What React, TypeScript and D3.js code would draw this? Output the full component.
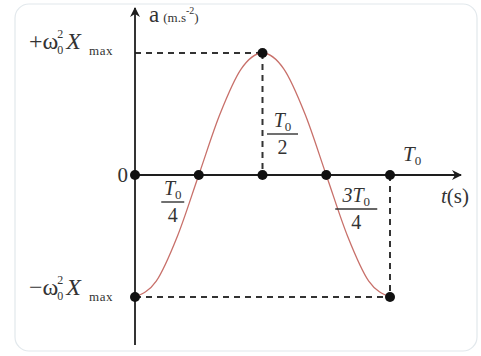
import React from 'react';
import * as d3 from 'd3';

// time in units of T0, acceleration in units of ω0²·Xmax
const times = [0, 1 / 12, 2 / 12, 3 / 12, 4 / 12, 5 / 12, 6 / 12, 7 / 12, 8 / 12, 9 / 12, 10 / 12, 11 / 12, 1];
const accel = [-1, -0.87, -0.5, 0, 0.5, 0.87, 1, 0.87, 0.5, 0, -0.5, -0.87, -1];
const axisMarks = [0, 0.25, 0.5, 0.75, 1];
const extremes = [
  { t: 0, a: -1 },
  { t: 0.5, a: 1 },
  { t: 1, a: -1 },
];

const W = 481;
const H = 356;
const serif = '"Liberation Serif", "DejaVu Serif", serif';
const ink = '#1e1e1e';

const App = () => {
  const x = d3.scaleLinear().domain([0, 1]).range([135, 390]);
  const y = d3.scaleLinear().domain([-1, 1]).range([297, 53]);
  const x0 = x(0);
  const y0 = y(0);

  const line = d3
    .line<number>()
    .x((_, i) => x(times[i]))
    .y((d) => y(d))
    .curve(d3.curveMonotoneX);

  const dash = { stroke: '#333', strokeWidth: 2, strokeDasharray: '6 5', fill: 'none' };

  const frac = (cx: number, top: number, num: React.ReactNode, den: string, w: number) => (
    <g fontFamily={serif} fill="#333" textAnchor="middle">
      <text x={cx} y={top} fontSize={20} fontStyle="italic">
        {num}
      </text>
      <line x1={cx - w / 2} x2={cx + w / 2} y1={top + 7} y2={top + 7} stroke="#333" strokeWidth={1.4} />
      <text x={cx} y={top + 27} fontSize={20}>
        {den}
      </text>
    </g>
  );

  const T0 = (
    <>
      T<tspan fontStyle="normal" fontSize={13} dy={4}>0</tspan>
    </>
  );

  const amp = (sign: string, yy: number) => (
    <text x={29} y={yy} fontSize={24}>
      {sign}ω
      <tspan fontSize={12} dy={-11} dx={-1}>2</tspan>
      <tspan fontSize={12} dy={16} dx={-6}>0</tspan>
      <tspan fontStyle="italic" dy={-5} dx={3}>X</tspan>
      <tspan fontSize={13} dy={6} dx={8} letterSpacing={0.5}>max</tspan>
    </text>
  );

  return (
    <svg width={W} height={H} style={{ position: 'absolute', left: 0, top: 0, background: '#fff' }}>
      <defs>
        <marker id="arr" viewBox="0 0 10 10" refX={9} refY={5} markerWidth={10} markerHeight={10} orient="auto" markerUnits="userSpaceOnUse">
          <path d="M0,0 L10,5 L0,10 L3,5 z" fill={ink} />
        </marker>
      </defs>

      <rect x={15} y={4} width={462} height={347} rx={14} fill="none" stroke="#e2e8ec" strokeWidth={1.2} />

      {/* guides */}
      <line x1={x0} x2={x(0.5)} y1={y(1)} y2={y(1)} {...dash} />
      <line x1={x(0.5)} x2={x(0.5)} y1={y(1)} y2={y0} {...dash} />
      <line x1={x0} x2={x(1)} y1={y(-1)} y2={y(-1)} {...dash} />
      <line x1={x(1)} x2={x(1)} y1={y0} y2={y(-1)} {...dash} />

      {/* axes */}
      <line x1={x0} x2={x0} y1={345} y2={8} stroke={ink} strokeWidth={1.8} markerEnd="url(#arr)" />
      <line x1={x0} x2={461} y1={y0} y2={y0} stroke={ink} strokeWidth={1.8} markerEnd="url(#arr)" />

      <path d={line(accel) ?? ''} fill="none" stroke="#c8706a" strokeWidth={1.3} />

      {axisMarks.map((t) => (
        <circle key={'m' + t} cx={x(t)} cy={y0} r={5} fill="#111" />
      ))}
      {extremes.map((p) => (
        <circle key={'e' + p.t} cx={x(p.t)} cy={y(p.a)} r={5} fill="#111" />
      ))}

      {/* labels */}
      <g fontFamily={serif} fill="#333">
        <text x={149} y={22} fontSize={23}>
          a
          <tspan fontSize={13} dx={4}>(m.s</tspan>
          <tspan fontSize={10} dy={-8}>-2</tspan>
          <tspan fontSize={13} dy={8}>)</tspan>
        </text>

        {amp('+', y(1) - 4)}
        {amp('−', y(-1) - 2)}

        <text x={128} y={y0 + 7} fontSize={21} textAnchor="end">
          0
        </text>

        <text x={403} y={161} fontSize={21} fontStyle="italic">
          {T0}
        </text>
        <text x={441} y={203} fontSize={21}>
          <tspan fontStyle="italic">t</tspan>(s)
        </text>
      </g>

      {frac(x(0.5) + 20, 127, T0, '2', 31)}
      {frac(x(0.25) - 26, 195, T0, '4', 23)}
      {frac(x(0.75) + 30, 202, <>3{T0}</>, '4', 42)}
    </svg>
  );
};

export default App;
